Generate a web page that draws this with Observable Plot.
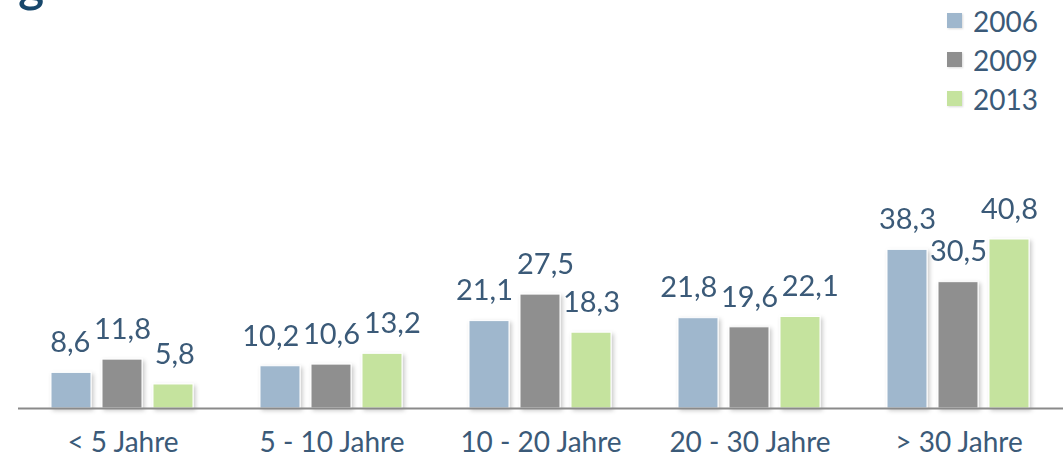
<!DOCTYPE html>
<html>
<head>
<meta charset="utf-8">
<script src="https://cdn.jsdelivr.net/npm/d3@7"></script>
<script src="https://cdn.jsdelivr.net/npm/@observablehq/plot@0.6"></script>
<style>
  html, body { margin: 0; padding: 0; background: #fff; overflow: hidden; }
  #wrap { position: relative; width: 1064px; height: 461px; font-family: Lato, "Open Sans", sans-serif; }
  #title { position: absolute; left: 18px; top: -41px; font-size: 50px; line-height: 48px; font-weight: 600; color: #17476b; white-space: nowrap; }
  #legend { position: absolute; left: 947px; top: 1px; }
  .item { display: flex; align-items: center; height: 39px; font-size: 28px; color: #3b5a78; }
  .sw { width: 15px; height: 15px; margin-right: 11px; box-shadow: 1px 1px 2px rgba(0,0,0,0.15); }
</style>
</head>
<body>
<div id="wrap">
  <div id="title">g</div>
  <div id="legend"></div>
</div>
<script>
const categories = ["< 5 Jahre", "5 - 10 Jahre", "10 - 20 Jahre", "20 - 30 Jahre", "> 30 Jahre"];
const years = ["2006", "2009", "2013"];
const values2006 = [8.6, 10.2, 21.1, 21.8, 38.3];
const values2009 = [11.8, 10.6, 27.5, 19.6, 30.5];
const values2013 = [5.8, 13.2, 18.3, 22.1, 40.8];
const colors = ["#9fb7cd", "#8f8f8f", "#c5e39e"];

const series = [values2006, values2009, values2013];
const data = [];
categories.forEach((c, i) => {
  years.forEach((y, j) => data.push({category: c, year: y, value: series[j][i]}));
});

const fmt = v => v.toFixed(1).replace(".", ",");
const textColor = "#3b5a78";

const chart = Plot.plot({
  width: 1064,
  height: 461,
  marginLeft: 17,
  marginRight: 0,
  marginTop: 0,
  marginBottom: 53,
  style: {fontFamily: "Lato, 'Open Sans', sans-serif", background: "transparent"},
  fx: {domain: categories, padding: 0, label: null},
  x: {domain: years, paddingInner: 0.21, paddingOuter: 0.615, axis: null},
  y: {domain: [0, 98.5], axis: null},
  color: {domain: years, range: colors},
  marks: [
    Plot.barY(data, {fx: "category", x: "year", y: "value", fill: "year", stroke: "white", strokeWidth: 1}),
    Plot.ruleY([0], {stroke: "#8a8a8a", strokeWidth: 2}),
    Plot.text(data, {fx: "category", x: "year", y: "value", text: d => fmt(d.value), dy: -30, fill: textColor, fontSize: 29}),
    Plot.axisFx({anchor: "bottom", tickSize: 0, tickPadding: 24, fontSize: 28, color: textColor, label: null})
  ]
});

// subtle drop shadow on bars
const svg = d3.select(chart);
const defs = svg.insert("defs", ":first-child");
const f = defs.append("filter").attr("id", "shadow").attr("x", "-20%").attr("y", "-20%").attr("width", "150%").attr("height", "150%");
f.append("feDropShadow").attr("dx", 2).attr("dy", 2).attr("stdDeviation", 2).attr("flood-color", "#000").attr("flood-opacity", 0.22);
svg.selectAll("g[aria-label='bar']").attr("filter", "url(#shadow)");

document.getElementById("wrap").appendChild(chart);
chart.style.position = "absolute";
chart.style.left = "0";
chart.style.top = "0";

// push overlapping value labels apart horizontally (like the spreadsheet's label placement)
const labels = Array.from(chart.querySelectorAll("g[aria-label='text'] text"));
const shifts = labels.map(() => 0);
const gap = 4;
for (let iter = 0; iter < 30; iter++) {
  let moved = false;
  const boxes = labels.map(t => t.getBoundingClientRect());
  for (let i = 0; i < labels.length; i++) {
    for (let j = i + 1; j < labels.length; j++) {
      const a = boxes[i], b = boxes[j];
      const vOverlap = Math.min(a.bottom, b.bottom) - Math.max(a.top, b.top) > 4;
      if (!vOverlap) continue;
      const [l, r, li, ri] = a.left + a.width / 2 <= b.left + b.width / 2 ? [a, b, i, j] : [b, a, j, i];
      const over = l.right + gap - r.left;
      if (over > 0.5) {
        shifts[li] -= over / 2;
        shifts[ri] += over / 2;
        moved = true;
      }
    }
  }
  labels.forEach((t, k) => t.setAttribute("dx", shifts[k]));
  if (!moved) break;
}

const legend = document.getElementById("legend");
years.forEach((y, i) => {
  const it = document.createElement("div");
  it.className = "item";
  const sw = document.createElement("span");
  sw.className = "sw";
  sw.style.background = colors[i];
  it.appendChild(sw);
  it.appendChild(document.createTextNode(y));
  legend.appendChild(it);
});
document.getElementById("wrap").appendChild(legend);
</script>
</body>
</html>
